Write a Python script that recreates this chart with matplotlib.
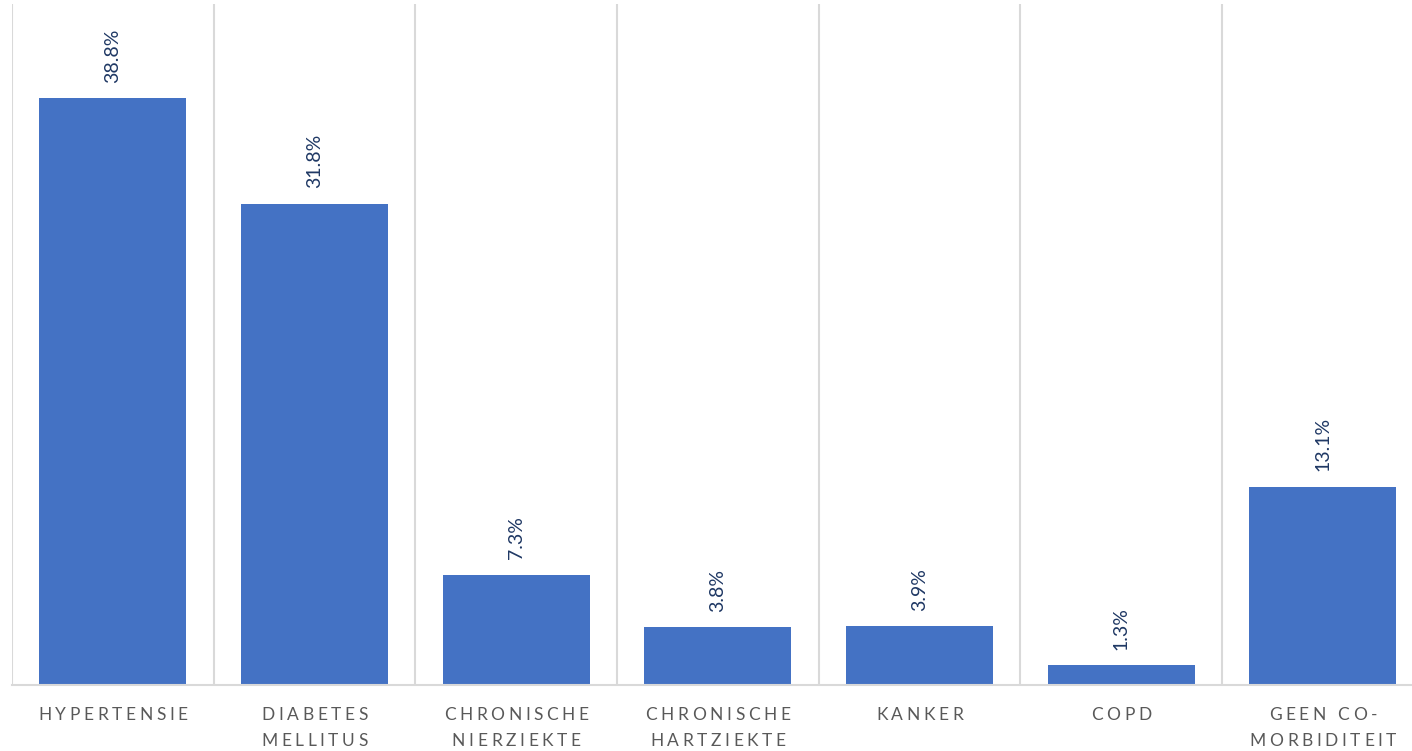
import numpy as np
import matplotlib
matplotlib.use("Agg")
import matplotlib.pyplot as plt
from matplotlib.font_manager import FontProperties

categories = ["HYPERTENSIE", "DIABETES\nMELLITUS", "CHRONISCHE\nNIERZIEKTE",
              "CHRONISCHE\nHARTZIEKTE", "KANKER", "COPD", "GEEN CO-\nMORBIDITEIT"]
values = [38.8, 31.8, 7.3, 3.8, 3.9, 1.3, 13.1]
value_labels = ["38.8%", "31.8%", "7.3%", "3.8%", "3.9%", "1.3%", "13.1%"]

W, H, DPI = 1412, 751, 100
fig = plt.figure(figsize=(W / DPI, H / DPI), dpi=DPI)
ax = fig.add_axes([12 / W, 66 / H, 1411.7 / W, 681 / H])

x = np.arange(len(values))
ax.bar(x, values, width=0.73, color="#4472C4", zorder=2)
ax.set_xlim(-0.5, len(values) - 0.5)
ax.set_ylim(0, 45)
for b in np.arange(-0.5, len(values), 1.0):
    ax.axvline(b, color="#D9D9D9", lw=1.5, zorder=1)
for s in ["top", "left", "right"]:
    ax.spines[s].set_visible(False)
ax.spines["bottom"].set_color("#D9D9D9")
ax.spines["bottom"].set_linewidth(1.5)
ax.spines["bottom"].set_zorder(3)
ax.set_xticks([])
ax.set_yticks([])

for i, (v, lbl) in enumerate(zip(values, value_labels)):
    ax.annotate(lbl, (i, v), xytext=(0, 11), textcoords="offset points",
                rotation=90, ha="center", va="bottom", color="#1F3864",
                fontsize=14, family="Lato")

# category labels with letter spacing
prop = FontProperties(family="Lato", size=12.5)
renderer = fig.canvas.get_renderer()
tracking_px = 3.6
pt = 72.0 / DPI
for i, cat in enumerate(categories):
    for li, line in enumerate(cat.split("\n")):
        widths = [renderer.get_text_width_height_descent(c, prop, ismath=False)[0]
                  for c in line]
        total = sum(widths) + tracking_px * (len(line) - 1)
        xpos = -total / 2
        base_px = 35 + 26 * li
        for c, w in zip(line, widths):
            if c != " ":
                ax.annotate(c, (i, 0), xycoords=("data", "axes fraction"),
                            xytext=(xpos * pt, -base_px * pt), textcoords="offset points",
                            ha="left", va="baseline", color="#595959",
                            fontproperties=prop, annotation_clip=False)
            xpos += w + tracking_px

fig.savefig("out.png", dpi=DPI)
